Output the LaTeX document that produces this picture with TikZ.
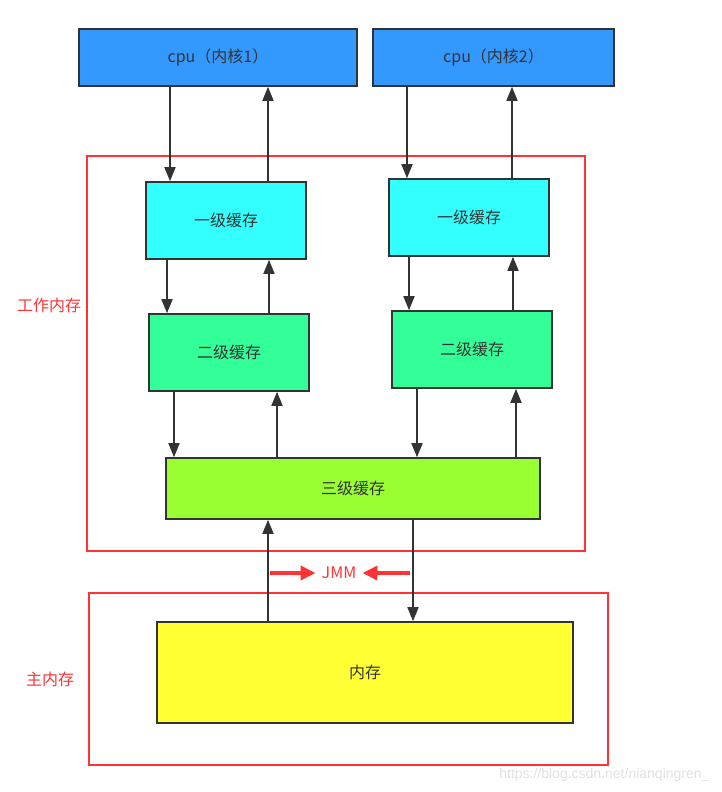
\documentclass[tikz,border=0pt]{standalone}
\usepackage{fontspec}
\setmainfont{Noto Sans CJK SC}
\newfontfamily\markfont{Liberation Sans}
\usetikzlibrary{arrows.meta,positioning}
\definecolor{edgegray}{HTML}{333333}
\definecolor{framered}{HTML}{FF3333}
\definecolor{cpublue}{HTML}{3399FF}
\definecolor{lonecyan}{HTML}{33FFFF}
\definecolor{ltwogreen}{HTML}{33FF99}
\definecolor{lthreelime}{HTML}{99FF33}
\definecolor{memyellow}{HTML}{FFFF33}
\tikzset{%
	box/.style      = {draw=edgegray, line width=1.6pt, rectangle, text=edgegray, font=\fontsize{16}{19}\selectfont},
	cpu/.style      = {box, fill=cpublue, minimum height=57pt}, % core
	lone/.style     = {box, fill=lonecyan, minimum width=160pt, minimum height=77pt}, % L1
	ltwo/.style     = {box, fill=ltwogreen, minimum width=160pt, minimum height=77pt}, % L2
	frame/.style    = {draw=framered, line width=2.5pt, rectangle}, % memory area
	framelabel/.style = {text=framered, font=\fontsize{16}{19}\selectfont},
	link/.style     = {draw=edgegray, line width=1.7pt, -{Triangle[length=14pt,width=11pt]}},
	jmmlink/.style  = {draw=framered, line width=3.5pt, -{Triangle[length=15pt,width=14pt]}},
}

\begin{document}
\begin{tikzpicture}[x=1pt,y=-1pt]
	\useasboundingbox (0,0) rectangle (722,792);
	% frames
	\node [frame, minimum width=498pt, minimum height=395pt] (work) at (336,353.5) {};
	\node [frame, minimum width=519pt, minimum height=172pt] (main) at (348.5,679) {};
	\node [framelabel] (worklabel) at (49,305) {工作内存};
	\node [framelabel] (mainlabel) at (50,679) {主内存};
	
	% cores
	\node [cpu, minimum width=278pt] (cpuA) at (218,57.5) {cpu（内核1）};
	\node [cpu, minimum width=241pt] (cpuB) at (493.5,57.5) {cpu（内核2）};
	
	% caches
	\node [lone] (l1A) at (226,220.5) {一级缓存};
	\node [lone] (l1B) at (469,217.5) {一级缓存};
	\node [ltwo] (l2A) [below=53.4pt of l1A, xshift=3pt] {二级缓存};
	\node [ltwo] (l2B) [below=53.4pt of l1B, xshift=3pt] {二级缓存};
	\node [box, fill=lthreelime, minimum width=374pt, minimum height=61pt] (l3) at (353,488.5) {三级缓存};
	\node [box, fill=memyellow, minimum width=416pt, minimum height=101pt] (mem) at (365,672.5) {内存};
	
	\draw[link] (cpuA.south -| 170,0) -- (l1A.north -| 170,0);
	\draw[link] (l1A.north -| 268,0) -- (cpuA.south -| 268,0);
	\draw[link] (cpuB.south -| 407,0) -- (l1B.north -| 407,0);
	\draw[link] (l1B.north -| 512,0) -- (cpuB.south -| 512,0);
	
	\draw[link] (l1A.south -| 167,0) -- (l2A.north -| 167,0);
	\draw[link] (l2A.north -| 269,0) -- (l1A.south -| 269,0);
	\draw[link] (l1B.south -| 409,0) -- (l2B.north -| 409,0);
	\draw[link] (l2B.north -| 513,0) -- (l1B.south -| 513,0);
	
	\draw[link] (l2A.south -| 174,0) -- (l3.north -| 174,0);
	\draw[link] (l3.north -| 277,0) -- (l2A.south -| 277,0);
	\draw[link] (l2B.south -| 417,0) -- (l3.north -| 417,0);
	\draw[link] (l3.north -| 516,0) -- (l2B.south -| 516,0);
	
	\draw[link] (mem.north -| 268,0) -- (l3.south -| 268,0);
	\draw[link] (l3.south -| 413,0) -- (mem.north -| 413,0);
	
	% JMM
	\node [framelabel, inner xsep=6pt] (jmm) at (339,573) {JMM};
	\coordinate (jmmL) at (270,573);
	\coordinate (jmmR) at (410,573);
	\draw[jmmlink] (jmmL) -- (jmm.west);
	\draw[jmmlink] (jmmR) -- (jmm.east);
	
	\node [text=black!12, font=\markfont\fontsize{14}{16}\selectfont, anchor=east] (mark) at (713,775) {https://blog.csdn.net/nianqingren\_};
\end{tikzpicture}
\end{document}
